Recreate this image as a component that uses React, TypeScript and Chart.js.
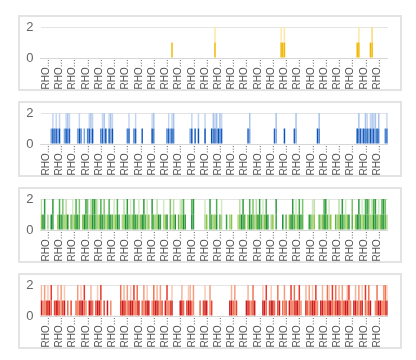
import { useEffect, useRef } from 'react';
import { Chart, registerables } from 'chart.js';

Chart.register(...registerables);

// ---- data ----
const CATEGORY_COUNT = 210;
const CATEGORY_LABEL = 'RHO...';
const categories: string[] = Array.from({ length: CATEGORY_COUNT }, () => CATEGORY_LABEL);
const TICK_STEP = 8;
const TICK_START = 3;
const Y_TICKS = [0, 2];

const yellowValues = [
  0,0,0,0,0,0,0,0,0,0,0,0,0,0,0,0,0,0,0,0,0,0,0,0,0,0,0,0,0,0,
  0,0,0,0,0,0,0,0,0,0,0,0,0,0,0,0,0,0,0,0,0,0,0,0,0,0,0,0,0,0,
  0,0,0,0,0,0,0,0,0,0,0,0,0,0,0,0,0,0,0,1,0,0,0,0,0,0,0,0,0,0,
  0,0,0,0,0,0,0,0,0,0,0,0,0,0,0,2,0,0,0,0,0,0,0,0,0,0,0,0,0,0,
  0,0,0,0,0,0,0,0,0,0,0,0,0,0,0,0,0,0,0,0,0,0,0,0,0,2,1,2,0,0,
  0,0,0,0,0,0,0,0,0,0,0,0,0,0,0,0,0,0,0,0,0,0,0,0,0,0,0,0,0,0,
  0,0,0,0,0,0,0,0,0,0,0,1,2,0,0,0,0,0,0,1,2,0,0,0,0,0,0,0,0,0,
];

const blueValues = [
  0,0,0,0,0,0,1,2,1,2,1,2,0,0,1,2,2,2,0,0,0,0,1,2,1,0,1,0,1,2,
  2,2,0,0,0,0,1,2,2,1,0,2,2,2,0,0,0,0,0,0,0,0,1,2,0,0,1,2,0,0,
  0,1,0,0,0,0,0,2,2,0,0,0,0,0,0,0,1,2,1,2,2,0,0,0,0,0,0,0,0,0,
  1,2,0,1,0,2,0,0,0,2,0,0,0,1,2,2,2,1,2,2,0,0,0,0,0,0,0,0,0,0,
  0,0,0,0,0,1,2,0,0,0,0,0,0,0,0,0,0,0,0,0,0,1,2,0,0,0,0,1,0,0,
  0,0,0,1,2,0,0,0,0,0,0,0,0,0,0,0,0,1,2,0,0,0,0,0,0,0,0,0,0,0,
  0,0,0,0,0,0,0,0,0,0,0,1,2,1,1,1,2,2,1,2,2,2,2,1,2,0,0,0,1,2,
];

const greenValues = [
  2,1,2,0,1,0,1,2,0,0,1,2,1,2,1,2,1,0,1,2,1,2,1,2,0,1,1,2,2,1,
  2,2,2,2,2,1,2,1,2,1,1,2,1,1,2,1,2,1,0,1,2,1,2,1,2,1,2,1,1,2,
  1,1,2,1,2,1,0,2,1,1,2,1,1,0,2,1,1,0,2,1,2,1,0,1,2,2,2,1,0,0,
  0,2,2,0,0,0,0,0,0,2,1,0,2,1,1,1,2,0,1,2,0,0,1,0,1,1,0,0,0,1,
  2,1,2,1,0,1,2,1,2,1,2,1,2,1,2,1,2,1,0,1,1,0,2,0,0,0,1,0,1,0,
  1,1,2,1,2,1,2,1,2,0,0,0,1,1,2,2,0,0,1,1,1,2,2,1,2,1,0,0,1,1,
  2,1,2,1,2,1,1,0,2,0,1,1,2,1,2,1,2,2,2,1,2,2,2,1,2,1,2,2,2,1,
];

const redValues = [
  2,1,2,1,2,1,2,0,1,1,2,1,2,1,2,0,1,0,1,0,0,1,2,1,2,1,2,1,0,1,
  2,1,0,1,2,1,2,0,1,0,1,0,1,0,0,0,0,0,2,1,2,1,2,1,2,1,2,1,2,1,
  0,1,2,1,2,1,0,1,2,1,2,1,2,1,0,1,2,1,1,2,0,0,0,0,1,2,1,0,1,2,
  2,1,2,0,0,0,1,0,1,2,1,0,2,1,0,0,0,0,0,0,0,0,0,0,1,2,1,2,1,0,
  0,0,0,0,1,2,1,1,2,1,0,0,0,0,2,1,2,0,1,2,1,1,0,2,1,0,1,2,1,0,
  1,2,1,2,1,1,2,1,0,0,2,1,2,1,2,1,2,1,0,1,2,1,1,2,2,1,2,1,2,1,
  2,1,2,1,1,2,2,1,0,1,2,1,2,1,2,0,2,1,2,1,0,0,1,2,1,1,1,2,2,2,
];

// ---- styles ----
const yellowLower = ['#f5c400', '#f2b705', '#f8d23a'];
const yellowUpper = ['#fbe7a3', '#f9dc6e', '#fde9b0'];
const blueLower = ['#1f5fbf', '#4a84d4', '#0d52b5', '#7ea6de'];
const blueUpper = ['#a9c3ea', '#5b8fd8', '#c3d5f1', '#2e6cc9'];
const greenLower = ['#5fb648', '#8cc63f', '#36a146', '#a9d48e', '#1f8f3a'];
const greenUpper = ['#b9dea5', '#7cc46a', '#4caf50', '#d2e9c3', '#2e9b3e'];
const redLower = ['#e8452f', '#d6191c', '#f08a6a', '#c81d1d', '#ee6a4c'];
const redUpper = ['#f7b29a', '#f0734f', '#e8382a', '#fbc7b4', '#f59a7c'];

type PanelProps = { values: number[]; lower: string[]; upper: string[] };

function Panel({ values, lower, upper }: PanelProps) {
  const ref = useRef<HTMLCanvasElement>(null);
  useEffect(() => {
    const chart = new Chart(ref.current as HTMLCanvasElement, {
      type: 'bar',
      data: {
        labels: categories,
        datasets: [
          {
            data: values.map((v) => (v >= 1 ? 1 : 0)),
            backgroundColor: values.map((_, i) => lower[(i * 3 + 1) % lower.length]),
            borderWidth: 0,
            stack: 's',
          },
          {
            data: values.map((v) => (v === 2 ? 1 : 0)),
            backgroundColor: values.map((_, i) => upper[(i * 2) % upper.length]),
            borderWidth: 0,
            stack: 's',
          },
        ],
      },
      options: {
        animation: false,
        responsive: false,
        events: [],
        layout: { padding: { top: 10, right: 9, left: 0, bottom: 0 } },
        plugins: { legend: { display: false }, tooltip: { enabled: false } },
        datasets: { bar: { barPercentage: 1, categoryPercentage: 0.9 } },
        scales: {
          x: {
            stacked: true,
            grid: { display: false, drawTicks: false },
            border: { display: true, color: '#d6d6d6' },
            ticks: {
              autoSkip: false,
              maxRotation: 90,
              minRotation: 90,
              padding: 1,
              color: '#555',
              font: { size: 10, family: 'Liberation Sans, Arial, sans-serif' },
              callback: (_v: any, i: number) => (i % TICK_STEP === TICK_START ? categories[i] : ''),
            },
            afterFit: (s: any) => {
              s.height = 31;
            },
          },
          y: {
            stacked: true,
            min: Y_TICKS[0],
            max: Y_TICKS[1],
            afterBuildTicks: (s: any) => {
              s.ticks = Y_TICKS.map((v) => ({ value: v }));
            },
            grid: { color: '#e4e4e4', drawTicks: true, tickLength: 7, tickColor: 'rgba(0,0,0,0)' },
            border: { display: false },
            ticks: {
              padding: 0,
              color: '#666',
              font: { size: 13, family: 'Liberation Sans, Arial, sans-serif' },
            },
            afterFit: (s: any) => {
              s.width = 20.5;
            },
          },
        },
      },
    } as any);
    return () => chart.destroy();
  }, []);
  return (
    <div
      style={{
        width: 384,
        height: 76,
        boxSizing: 'border-box',
        border: '2px solid #e3e3e3',
        marginBottom: 10,
      }}
    >
      <canvas ref={ref} width={380} height={72} style={{ display: 'block' }} />
    </div>
  );
}

export default function App() {
  return (
    <div style={{ paddingTop: 7, paddingLeft: 10 }}>
      <Panel values={yellowValues} lower={yellowLower} upper={yellowUpper} />
      <Panel values={blueValues} lower={blueLower} upper={blueUpper} />
      <Panel values={greenValues} lower={greenLower} upper={greenUpper} />
      <Panel values={redValues} lower={redLower} upper={redUpper} />
    </div>
  );
}
